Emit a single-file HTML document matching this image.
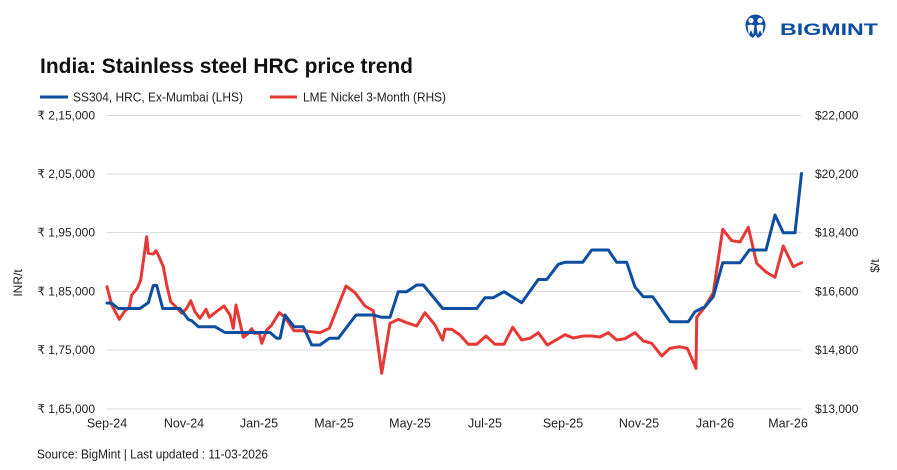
<!DOCTYPE html>
<html>
<head>
<meta charset="utf-8">
<style>
  html,body{margin:0;padding:0;background:#fff;}
  svg{display:block;}
  text{font-family:"Liberation Sans", "DejaVu Sans", sans-serif;}
</style>
</head>
<body>
<svg width="897" height="470" viewBox="0 0 897 470" xmlns="http://www.w3.org/2000/svg">
  <rect width="897" height="470" fill="#ffffff"/>

  <!-- Logo -->
  <g>
    <path d="M745.5,25 A10,10.5 0 1 1 765.5,25 Q765.5,31 761,36 L758,38 L755.5,35 L753,38 L750,36 Q745.5,31 745.5,25 Z" fill="#0D4EA0"/>
    <circle cx="751" cy="20.5" r="2.6" fill="#fff"/>
    <circle cx="760" cy="20.5" r="2.6" fill="#fff"/>
    <path d="M747.5,25.5 Q751,23.8 754.5,25.5 L753.2,35 L751,30 L748.8,35 Z" fill="#fff"/>
    <path d="M756.5,25.5 Q760,23.8 763.5,25.5 L762.2,35 L760,30 L757.8,35 Z" fill="#fff"/>
    <text x="780" y="35" font-size="16.5" font-weight="bold" fill="#0D4EA0" textLength="98" lengthAdjust="spacingAndGlyphs">BIGMINT</text>
  </g>

  <!-- Title -->
  <text x="40" y="73" font-size="21" font-weight="bold" fill="#111" textLength="373" lengthAdjust="spacingAndGlyphs">India: Stainless steel HRC price trend</text>

  <!-- Legend -->
  <line x1="40" y1="97" x2="68" y2="97" stroke="#0D4EA0" stroke-width="3"/>
  <text x="73" y="101.5" font-size="12.5" fill="#222" textLength="170" lengthAdjust="spacingAndGlyphs">SS304, HRC, Ex-Mumbai (LHS)</text>
  <line x1="270" y1="97" x2="297" y2="97" stroke="#E53935" stroke-width="3"/>
  <text x="303" y="101.5" font-size="12.5" fill="#222" textLength="143" lengthAdjust="spacingAndGlyphs">LME Nickel 3-Month (RHS)</text>

  <!-- Gridlines -->
  <g stroke="#d9d9d9" stroke-width="1">
    <line x1="107" y1="115.5" x2="801" y2="115.5"/>
    <line x1="107" y1="174" x2="801" y2="174"/>
    <line x1="107" y1="232.5" x2="801" y2="232.5"/>
    <line x1="107" y1="291.5" x2="801" y2="291.5"/>
    <line x1="107" y1="350" x2="801" y2="350"/>
    <line x1="107" y1="409" x2="801" y2="409"/>
  </g>

  <!-- Left axis labels -->
  <g font-size="12" fill="#222" text-anchor="end">
    <text x="95" y="119.5">₹ 2,15,000</text>
    <text x="95" y="178">₹ 2,05,000</text>
    <text x="95" y="236.5">₹ 1,95,000</text>
    <text x="95" y="295.5">₹ 1,85,000</text>
    <text x="95" y="354">₹ 1,75,000</text>
    <text x="95" y="413">₹ 1,65,000</text>
  </g>

  <!-- Right axis labels -->
  <g font-size="12" fill="#222">
    <text x="815" y="119.5">$22,000</text>
    <text x="815" y="178">$20,200</text>
    <text x="815" y="236.5">$18,400</text>
    <text x="815" y="295.5">$16,600</text>
    <text x="815" y="354">$14,800</text>
    <text x="815" y="413">$13,000</text>
  </g>

  <!-- Axis titles -->
  <text x="0" y="0" font-size="12" fill="#222" text-anchor="middle" transform="translate(22,283) rotate(-90)">INR/t</text>
  <text x="0" y="0" font-size="12" fill="#222" text-anchor="middle" transform="translate(879,266) rotate(-90)">$/t</text>

  <!-- X axis labels -->
  <g font-size="12.5" fill="#222" text-anchor="middle">
    <text x="107" y="427.5">Sep-24</text>
    <text x="184" y="427.5">Nov-24</text>
    <text x="259" y="427.5">Jan-25</text>
    <text x="334" y="427.5">Mar-25</text>
    <text x="410" y="427.5">May-25</text>
    <text x="485" y="427.5">Jul-25</text>
    <text x="563" y="427.5">Sep-25</text>
    <text x="639" y="427.5">Nov-25</text>
    <text x="715" y="427.5">Jan-26</text>
    <text x="788" y="427.5">Mar-26</text>
  </g>

  <!-- Series: LME Nickel (red) -->
  <polyline fill="none" stroke="#E53935" stroke-width="3" stroke-linejoin="round" stroke-linecap="round"
    points="107,286.7 111.7,305 119.3,319.3 125,310.7 129.3,307.3 131.7,295 137.3,288.3 140.7,280 146.7,236.7 148.3,253.3 153.3,254 156,250.7 158.3,255 163.3,266.7 166.7,285 170.7,301.7 177.3,308.3 181.7,313.3 186.7,308.3 190.7,300.7 195,311.7 200,318.3 206,309.3 209.3,317.3 215,312.7 224,306 230,315 233.3,328.3 236,305 243.3,337.3 248.3,333.3 251.7,328.7 254,333.3 259.3,333.3 261.7,343.3 266.7,330 271.7,325 279.3,312.7 285,317.3 294,330.7 303.3,330.7 320,332.7 329.3,328.3 346,286 355,292.7 365,306 373.3,310.7 381.7,373.3 390,323.3 398.3,319.3 406.7,322.7 416.7,326 425,312.7 435,325 442.7,340 445,329.3 451.7,329.3 460,335 468.3,344.3 476.7,344.3 486,336 495,344.3 504,344.3 512.7,327.3 521.7,340 530,338.3 538.3,332.7 547.3,345 556,340 565,334.7 573.3,338 583.3,336 591.7,336 600,337 608.3,332.7 616.7,340 625,338.7 635,332.7 643.3,341 651.7,343.3 661.7,356 670,348.3 679.3,346.7 687.3,348.3 696,368.3 696.7,317.3 705,306.7 713.3,292.7 722.7,229.3 731.7,240.7 740,242 748.3,227.3 756.7,263.3 766,272 775,277.3 783.3,246 793.3,266.7 801.7,262.7"/>

  <!-- Series: SS304 HRC (blue) -->
  <polyline fill="none" stroke="#0D4EA0" stroke-width="3" stroke-linejoin="round" stroke-linecap="round"
    points="107,303 111.7,303.3 118.3,308.5 140,308.5 148.3,302.7 153.3,285.5 156.7,285.5 162.7,308.5 180,308.5 188.3,319.5 191.7,320.7 198.3,326.7 215,326.7 225,332.5 270,332.5 276.7,338.3 280,338.3 285,315 294,326.7 303.3,326.7 311.7,345 320,345 329.3,338.3 338.3,338.3 356,315 373.3,315 381.7,317.3 390,317.3 398.3,291.7 406.7,291.7 416.7,285 423.3,285 442.7,308.5 476.7,308.5 485,297.7 493.3,297.7 504,291.7 521.7,302.7 538.3,279.5 546.7,279.5 558.3,264.3 565,262.3 582.7,262.3 591.7,250 608.3,250 616.7,262.3 626.7,262.3 635,287 643.3,296.7 652.7,296.7 670,321.7 688.3,321.7 695,311.7 705,306.7 713.3,296.7 722.7,262.7 740,262.7 749.3,250 766,250 775,215 783.3,232.7 795,232.7 801.5,173.5"/>

  <!-- Source -->
  <text x="37" y="458.5" font-size="12.5" fill="#222" textLength="231" lengthAdjust="spacingAndGlyphs">Source: BigMint | Last updated : 11-03-2026</text>
</svg>
</body>
</html>
